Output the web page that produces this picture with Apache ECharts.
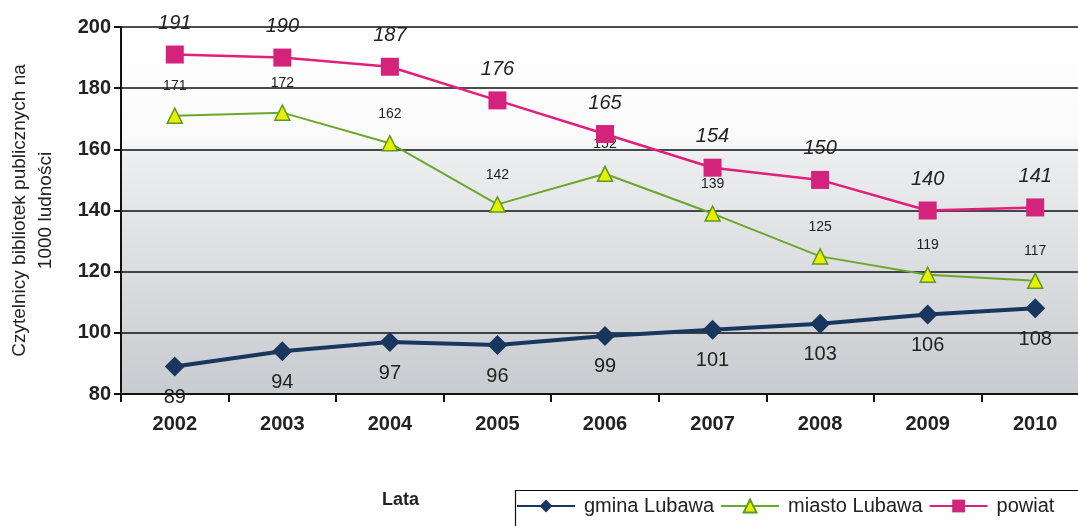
<!DOCTYPE html>
<html>
<head>
<meta charset="utf-8">
<script src="https://cdn.jsdelivr.net/npm/echarts@6/dist/echarts.min.js"></script>
<style>
html,body{margin:0;padding:0;background:#fff;}
#chart{width:1078px;height:526px;}
</style>
</head>
<body>
<div id="chart"></div>
<script>
var years = ['2002','2003','2004','2005','2006','2007','2008','2009','2010'];
var gmina = [89, 94, 97, 96, 99, 101, 103, 106, 108];
var miasto = [171, 172, 162, 142, 152, 139, 125, 119, 117];
var powiat = [191, 190, 187, 176, 165, 154, 150, 140, 141];
var seriesNames = ['gmina Lubawa', 'miasto Lubawa', 'powiat'];

var chart = echarts.init(document.getElementById('chart'));
var fontF = 'Liberation Sans, Arial, sans-serif';
chart.setOption({
  animation: false,
  textStyle: {fontFamily: fontF},
  title: {
    text: 'Lata', left: 377, top: 486,
    textStyle: {fontSize: 18, fontWeight: 'bold', color: '#222', fontFamily: fontF}
  },
  graphic: [{
    type: 'rect', left: 513, top: 488, z: 0,
    shape: {width: 620, height: 60},
    style: {fill: 'none', stroke: '#111', lineWidth: 1.2}
  }],
  grid: {
    left: 121, right: -11, top: 27, bottom: 132,
    outerBoundsMode: 'none',
    containLabel: false,
    show: true, borderWidth: 0,
    backgroundColor: {
      type: 'linear', x: 0, y: 0, x2: 0, y2: 1,
      colorStops: [
        {offset: 0, color: '#ffffff'},
        {offset: 0.3, color: '#fafafa'},
        {offset: 0.36, color: '#ecedef'},
        {offset: 0.6, color: '#dfe0e3'},
        {offset: 1, color: '#c8cbcf'}
      ]
    }
  },
  legend: {
    left: 516, top: 494,
    itemWidth: 58, itemHeight: 16, itemGap: 6,
    padding: [2, 0, 2, 0],
    textStyle: {fontSize: 20, color: '#222', fontFamily: fontF, padding: [0, 0, 0, 4]},
    data: seriesNames
  },
  xAxis: {
    type: 'category', data: years, boundaryGap: true,
    axisLine: {lineStyle: {color: '#111', width: 2}},
    axisTick: {show: true, length: 8, lineStyle: {color: '#111', width: 2}},
    axisLabel: {fontSize: 20, fontWeight: 'bold', color: '#222', margin: 20}
  },
  yAxis: {
    type: 'value', min: 80, max: 200, interval: 20,
    name: 'Czytelnicy bibliotek publicznych na\n1000 ludności',
    nameLocation: 'middle', nameGap: 62, nameRotate: 90,
    nameTextStyle: {fontSize: 19, color: '#222', lineHeight: 26},
    axisLine: {show: true, lineStyle: {color: '#111', width: 2}},
    axisTick: {show: true, length: 7, lineStyle: {color: '#111', width: 2}},
    axisLabel: {fontSize: 20, fontWeight: 'bold', color: '#222', margin: 10},
    splitLine: {show: true, lineStyle: {color: '#111', width: 1.5}}
  },
  series: [
    {
      name: seriesNames[0], type: 'line', data: gmina,
      symbol: 'diamond', symbolSize: 20,
      lineStyle: {color: '#17375e', width: 4},
      itemStyle: {color: '#17375e'},
      label: {show: true, position: 'bottom', distance: 11, fontSize: 20, color: '#222'},
      z: 4
    },
    {
      name: seriesNames[1], type: 'line', data: miasto,
      symbol: 'triangle', symbolSize: 15,
      lineStyle: {color: '#6aa82a', width: 2},
      itemStyle: {color: '#e8f000', borderColor: '#5c9a1e', borderWidth: 1.5},
      label: {show: true, position: 'top', distance: 14, fontSize: 14, color: '#222'},
      z: 3
    },
    {
      name: seriesNames[2], type: 'line', data: powiat,
      symbol: 'rect', symbolSize: 18,
      lineStyle: {color: '#e0207a', width: 2.5},
      itemStyle: {color: '#d3237b'},
      label: {show: true, position: 'top', distance: 12, fontSize: 20, fontStyle: 'italic', color: '#222'},
      z: 5
    }
  ]
});
</script>
</body>
</html>
